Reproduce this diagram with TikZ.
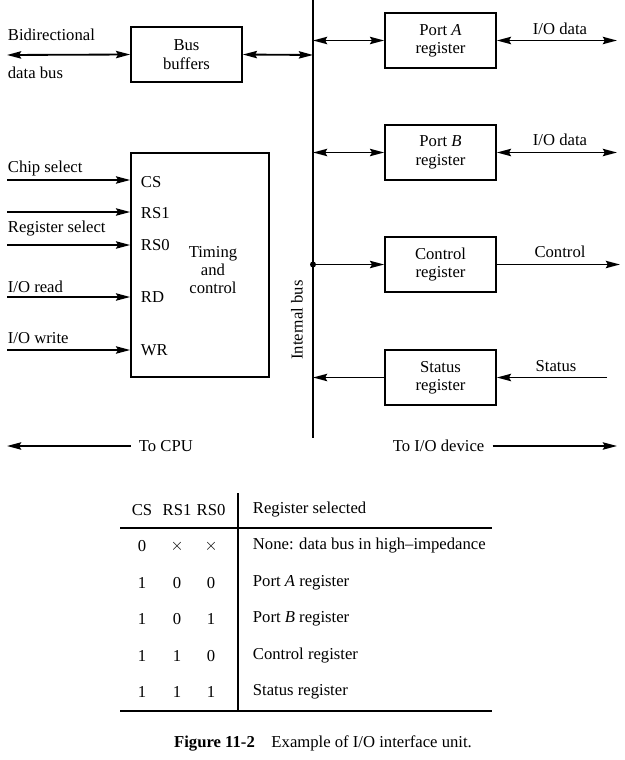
\documentclass[tikz,border=0pt]{standalone}
\usepackage{fontspec}
\setmainfont{Liberation Serif}
\usetikzlibrary{arrows.meta,positioning}

\tikzset{
  reg/.style={draw, line width=1pt, minimum width=66.6pt, minimum height=33pt, align=center, inner sep=0pt},
  lbl/.style={inner sep=0pt},
  pin/.style={inner sep=0pt, anchor=west},
  >={Stealth[length=8.5pt,width=4.4pt,inset=1.2pt]}
}

\begin{document}
\begin{tikzpicture}[x=0.6pt, y=-0.6pt, font=\fontsize{10}{11}\selectfont, line width=1.1pt]
   \useasboundingbox (0,0) rectangle (624,760);

   % internal bus
   \coordinate (btop) at (313,0);
   \coordinate (bbot) at (313,438);
   \draw (btop) -- (bbot);
   \node[lbl, rotate=90] (ib) at (297,320) {Internal bus};

   % CPU side
   \node[reg] (bb) at (186.5,54.5) {Bus\\buffers};
   \node[lbl, anchor=west] (bd1) at (7,35) {Bidirectional};
   \node[lbl, anchor=west] (bd2) at (7,73) {data bus};
   \coordinate (dbus) at (7,55);
   \coordinate (b1) at (313,55);

   \node[draw, line width=1pt, minimum width=82.8pt, minimum height=134.4pt] (tc) at (200,265) {};
   \node[align=center, inner sep=0pt] (tct) at (213,270) {Timing\\and\\control};
   \node[pin] (cs) at (140,182) {CS};
   \node[pin] (rs1) at (140,213) {RS1};
   \node[pin] (rs0) at (140,245) {RS0};
   \node[pin] (rd) at (140,297) {RD};
   \node[pin] (wr) at (140,350) {WR};

   \node[lbl, anchor=west] (chip) at (7,168) {Chip select};
   \node[lbl, anchor=west] (rsel) at (7,229) {Register select};
   \node[lbl, anchor=west] (rdl) at (7,287) {I/O read};
   \node[lbl, anchor=west] (wrl) at (7,338) {I/O write};
   \coordinate (i1) at (7,180);
   \coordinate (i2) at (7,212);
   \coordinate (i3) at (7,245);
   \coordinate (i4) at (7,297);
   \coordinate (i5) at (7,350);

   \node[lbl, anchor=west] (tocpu) at (138,446) {To CPU};
   \coordinate (lcpu) at (7,446);

   % I/O side
   \node[reg] (pa) at (440.5,40.5) {Port \textit{A}\\register};
   \node[reg] (pb) at (440.5,152.5) {Port \textit{B}\\register};
   \node[reg] (cr) at (440.5,264.5) {Control\\register};
   \node[reg] (sr) at (440.5,377.5) {Status\\register};
   \coordinate (b2) at (313,40.5);
   \coordinate (b3) at (313,152.5);
   \coordinate (b4) at (313,264.5);
   \coordinate (b5) at (313,377.5);
   \coordinate (o1) at (617,40.5);
   \coordinate (o2) at (617,152.5);
   \coordinate (o3) at (620,264.5);
   \coordinate (o4) at (607,377.5);
   \node[lbl] (ioa) at (560,29) {I/O data};
   \node[lbl] (iob) at (560,140) {I/O data};
   \node[lbl] (ctl) at (560,252) {Control};
   \node[lbl] (sts) at (556,366) {Status};

   \node[lbl, anchor=west] (todev) at (392,446) {To I/O device};
   \coordinate (rdev) at (617,446);

   \fill (b4) circle (3);

   \path[<->]
     (dbus) edge (bb.west)
     (bb.east) edge (b1)
     (b2) edge (pa.west)
     (pa.east) edge (o1)
     (b3) edge (pb.west)
     (pb.east) edge (o2);
   \path[->]
     (b4) edge (cr.west)
     (cr.east) edge (o3)
     (o4) edge (sr.east)
     (sr.west) edge (b5)
     (i1) edge (i1 -| tc.west)
     (i2) edge (i2 -| tc.west)
     (i3) edge (i3 -| tc.west)
     (i4) edge (i4 -| tc.west)
     (i5) edge (i5 -| tc.west)
     ([xshift=-4.5pt]tocpu.west) edge (lcpu)
     ([xshift=4.5pt]todev.east) edge (rdev);

   % table
   \node[lbl] (hcs) at (142,510) {CS};
   \node[lbl] (hrs1) at (177,510) {RS1};
   \node[lbl] (hrs0) at (211,510) {RS0};
   \node[lbl, anchor=west] (hsel) at (252,510) {Register selected};
   \draw (120,528) -- (492,528);
   \draw (120,711) -- (492,711);
   \draw (238,493) -- (238,711);

   \node[lbl] (r1a) at (142,546) {0};
   \node[lbl] (r1b) at (177,546) {$\times$};
   \node[lbl] (r1c) at (211,546) {$\times$};
   \node[lbl, anchor=west] (r1d) at (252,546) {None: data bus in high--impedance};
   \node[lbl] (r2a) at (142,583) {1};
   \node[lbl] (r2b) at (177,583) {0};
   \node[lbl] (r2c) at (211,583) {0};
   \node[lbl, anchor=west] (r2d) at (252,583) {Port \textit{A} register};
   \node[lbl] (r3a) at (142,619) {1};
   \node[lbl] (r3b) at (177,619) {0};
   \node[lbl] (r3c) at (211,619) {1};
   \node[lbl, anchor=west] (r3d) at (252,619) {Port \textit{B} register};
   \node[lbl] (r4a) at (142,656) {1};
   \node[lbl] (r4b) at (177,656) {1};
   \node[lbl] (r4c) at (211,656) {0};
   \node[lbl, anchor=west] (r4d) at (252,656) {Control register};
   \node[lbl] (r5a) at (142,692) {1};
   \node[lbl] (r5b) at (177,692) {1};
   \node[lbl] (r5c) at (211,692) {1};
   \node[lbl, anchor=west] (r5d) at (252,692) {Status register};

   \node[lbl] (cap) at (323,743) {\textbf{Figure 11-2}\quad Example of I/O interface unit.};
\end{tikzpicture}
\end{document}
